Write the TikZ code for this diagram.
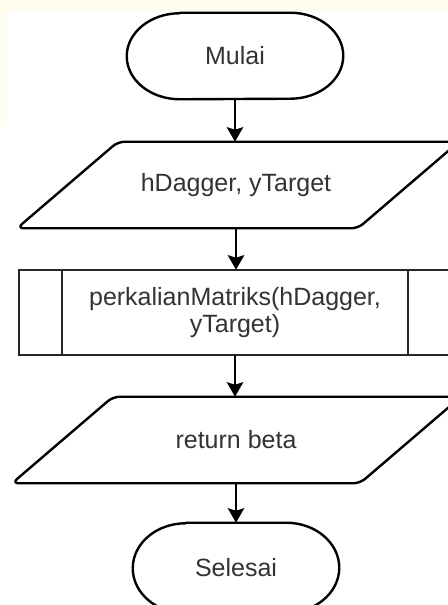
\documentclass[tikz,border=0pt]{standalone}
\usepackage{fontspec}
\setmainfont{Liberation Sans}
\usetikzlibrary{arrows.meta,calc}

\definecolor{paper}{HTML}{FFFDEF}
\definecolor{ink}{HTML}{333333}

\tikzset{
  label/.style={draw=none, inner sep=0pt, text=ink, align=center,
    font=\fontsize{18.75}{20.5}\selectfont},
  outline/.style={draw=black, line width=1.8pt, line join=round},
  thinline/.style={draw=black!85, line width=1.1pt},
  flow/.style={draw=black, line width=1.1pt,
    -{Stealth[length=11pt, width=12.5pt, inset=2pt]}},
}

\begin{document}
\begin{tikzpicture}[x=0.75pt, y=-0.75pt]
  % page area (pixel grid, y downwards)
  \useasboundingbox (0,0) rectangle (448,605);
  \clip (0,0) rectangle (448,605);
  \fill[paper] (0,0) rectangle (448,605);
  \fill[white] (7,12) rectangle (448,605);
  \fill[white] (0,127) rectangle (7,605);

  % text nodes, sized to the shapes around them
  \node[label, minimum width=162pt, minimum height=64.5pt] (start) at (235,56) {Mulai};
  \node[label, minimum width=200pt, minimum height=64.5pt] (in1) at (236,185) {hDagger, yTarget};
  \node[label, minimum width=200pt, minimum height=63.75pt] (proc) at (235,312.5)
    {perkalianMatriks(hDagger,\\yTarget)};
  \node[label, minimum width=200pt, minimum height=64.5pt] (out) at (236,440) {return beta};
  \node[label, minimum width=154.5pt, minimum height=67.5pt] (stop) at (236,568) {Selesai};

  % terminator: start
  \draw[outline] ($(start.north west)+(53,0)$) -- ($(start.north east)+(-53,0)$)
    arc[start angle=-90, end angle=90, x radius=53, y radius=43]
    -- ($(start.south west)+(53,0)$)
    arc[start angle=90, end angle=270, x radius=53, y radius=43] -- cycle;

  % input: hDagger, yTarget
  \draw[outline, rounded corners=5pt]
    ($(in1.south)+(-219,0)$) -- ($(in1.north)+(-118,0)$) -- ($(in1.north)+(223,0)$)
    -- ($(in1.south)+(122,0)$) -- cycle;

  % predefined process
  \draw[thinline] (19,270) rectangle (451,355);
  \draw[thinline] (62,270) -- (62,355);
  \draw[thinline] (408,270) -- (408,355);

  % output: return beta
  \draw[outline, rounded corners=5pt]
    ($(out.south)+(-224,0)$) -- ($(out.north)+(-123,0)$) -- ($(out.north)+(225,0)$)
    -- ($(out.south)+(124,0)$) -- cycle;

  % terminator: stop
  \draw[outline] ($(stop.north west)+(53,0)$) -- ($(stop.north east)+(-53,0)$)
    arc[start angle=-90, end angle=90, x radius=53, y radius=45]
    -- ($(stop.south west)+(53,0)$)
    arc[start angle=90, end angle=270, x radius=53, y radius=45] -- cycle;

  % connectors
  \draw[flow] (start.south) -- (start.south |- in1.north);
  \draw[flow] (in1.south) -- (in1.south |- proc.north);
  \draw[flow] (proc.south) -- (proc.south |- out.north);
  \draw[flow] (out.south) -- (out.south |- stop.north);
\end{tikzpicture}
\end{document}
